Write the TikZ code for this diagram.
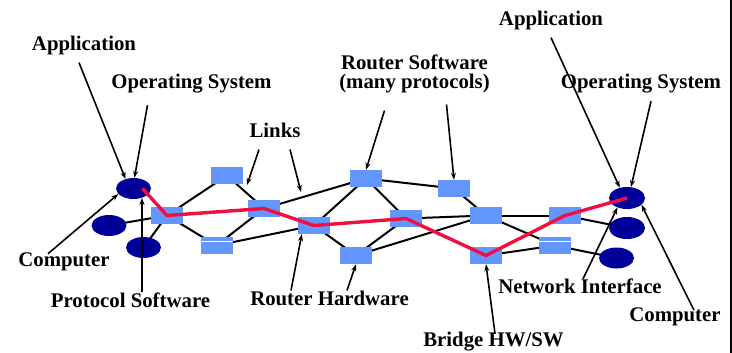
\documentclass[tikz,border=0pt]{standalone}
\usepackage{fontspec}
\setmainfont{Liberation Serif}
\usetikzlibrary{shapes.geometric,arrows.meta,backgrounds}

\definecolor{hostblue}{RGB}{0,0,153}
\definecolor{routerblue}{RGB}{100,150,255}
\definecolor{pathred}{RGB}{240,16,64}

\begin{document}
\begin{tikzpicture}[x=1pt,y=-1pt,
    router/.style={fill=routerblue,minimum width=32pt,minimum height=17pt,inner sep=0pt},
    bridgebox/.style={router,path picture={\draw[white,line width=1.5pt]
        ([yshift=-4.7pt]path picture bounding box.north west) --
        ([yshift=-4.7pt]path picture bounding box.north east);}},
    host/.style={ellipse,fill=hostblue,minimum width=35pt,minimum height=21pt,inner sep=0pt},
    link/.style={line width=2pt},
    lbl/.style={font=\bfseries\fontsize{20.8}{19.5}\selectfont,inner sep=0pt,align=center},
    pointer/.style={line width=1.6pt,-{Stealth[length=7pt,width=5pt]}}]
    \useasboundingbox (0,0) rectangle (732,353);

    % Rechner links und rechts
    \node[host] (hl1) at (133.5,188.5) {};
    \node[host] (hl2) at (109,225.5) {};
    \node[host] (hl3) at (143.5,247.5) {};
    \node[host,minimum width=36pt,minimum height=22pt] (hr1) at (627,198) {};
    \node[host,minimum width=36pt,minimum height=22pt] (hr2) at (627,228) {};
    \node[host] (hr3) at (616.5,258) {};

    % Router und Bridges
    \node[router] (r1) at (167,215.5) {};
    \node[router] (r2) at (227,175.5) {};
    \node[bridgebox] (b1) at (216.5,245.5) {};
    \node[router] (r3) at (264,208.5) {};
    \node[router] (r4) at (314,225.5) {};
    \node[router] (r5) at (366,178.5) {};
    \node[router] (r6) at (356,255.5) {};
    \node[router] (r7) at (406,218.5) {};
    \node[router] (r8) at (454,188.5) {};
    \node[router] (r9) at (486,215.5) {};
    \node[router] (r10) at (486,255.5) {};
    \node[router] (r11) at (565,215.5) {};
    \node[bridgebox] (b2) at (555,245.5) {};

    % Leitungen hinter den Knoten
    \begin{scope}[on background layer]
        \foreach \a/\b in {hl2/r1, hl3/r1, r1/r2, r1/b1, r1/r3, r2/r3, b1/r3, b1/r4,
                           r3/r5, r4/r5, r4/r7, r4/r6, r6/r7, r6/r9, r5/r8, r5/r7,
                           r7/r9, r8/r9, r9/r11, r9/b2, r10/b2, r10/r11, r11/hr2, b2/hr3} {
            \draw[link] (\a.center) -- (\b.center);
        }
    \end{scope}

    % Weg durch das Netz
    \draw[pathred,line width=3.4pt,line join=round]
        ([xshift=9pt]hl1.center) -- (r1.center) -- (r3.center) -- (r4.center)
        -- (r7.center) -- (r10.center) -- (r11.center) -- (hr1.center);

    % Beschriftungen
    \node[lbl] (appL) at (84,45) {Application};
    \node[lbl] (osL) at (191.5,83.5) {Operating System};
    \node[lbl] (links) at (275,130) {Links};
    \node[lbl] (rsw) at (414.5,74) {Router Software\\(many protocols)};
    \node[lbl] (appR) at (551,20) {Application};
    \node[lbl] (osR) at (641,83.5) {Operating System};
    \node[lbl] (compL) at (64,262) {Computer};
    \node[lbl] (protoL) at (130.5,300) {Protocol Software};
    \node[lbl] (rhw) at (329.5,298) {Router Hardware};
    \node[lbl] (bridge) at (493.5,341.5) {Bridge HW/SW};
    \node[lbl] (netR) at (580,286.5) {Network Interface};
    \node[lbl] (compR) at (675,316.5) {Computer};

    % Zeiger auf die Leitungen
    \coordinate (linkBD) at (247,185);
    \coordinate (linkDF) at (301,192);

    % Pfeile
    \draw[pointer] ([xshift=-5pt,yshift=-8pt]appL.south) -- (hl1.130);
    \draw[pointer] ([xshift=-44pt,yshift=-12pt]osL.south) -- (hl1.85);
    \draw[pointer] ([xshift=-16pt,yshift=-12pt]links.south) -- (linkBD);
    \draw[pointer] ([xshift=15pt,yshift=-12pt]links.south) -- (linkDF);
    \draw[pointer] ([xshift=-30pt,yshift=-17pt]rsw.south) -- (r5.north);
    \draw[pointer] ([xshift=32pt,yshift=-11pt]rsw.south) -- (r8.north);
    \draw[pointer] ([yshift=-8pt]appR.south) -- (hr1.125);
    \draw[pointer] ([xshift=10pt,yshift=-8pt]osR.south) -- (hr1.70);
    \draw[pointer] ([xshift=-16pt,yshift=-1pt]compL.north) -- (hl1.200);
    \draw[pointer] (protoL.north -| hl1.-48) -- (hl1.-48);
    \draw[pointer] ([xshift=-38.5pt]rhw.north) -- ([xshift=4pt]r4.south west);
    \draw[pointer] ([xshift=17.5pt]rhw.north) -- (r6.south);
    \draw[pointer] ([xshift=1.5pt,yshift=-2pt]bridge.north) -- (r10.south);
    \draw[pointer] ([xshift=3pt]netR.north) -- (hr1.225);
    \draw[pointer] ([xshift=19pt,yshift=-3pt]compR.north) -- (hr1.-25);

    % Rand rechts
    \draw[line width=1.7pt] (730.8,0) -- (730.8,353);
\end{tikzpicture}
\end{document}
